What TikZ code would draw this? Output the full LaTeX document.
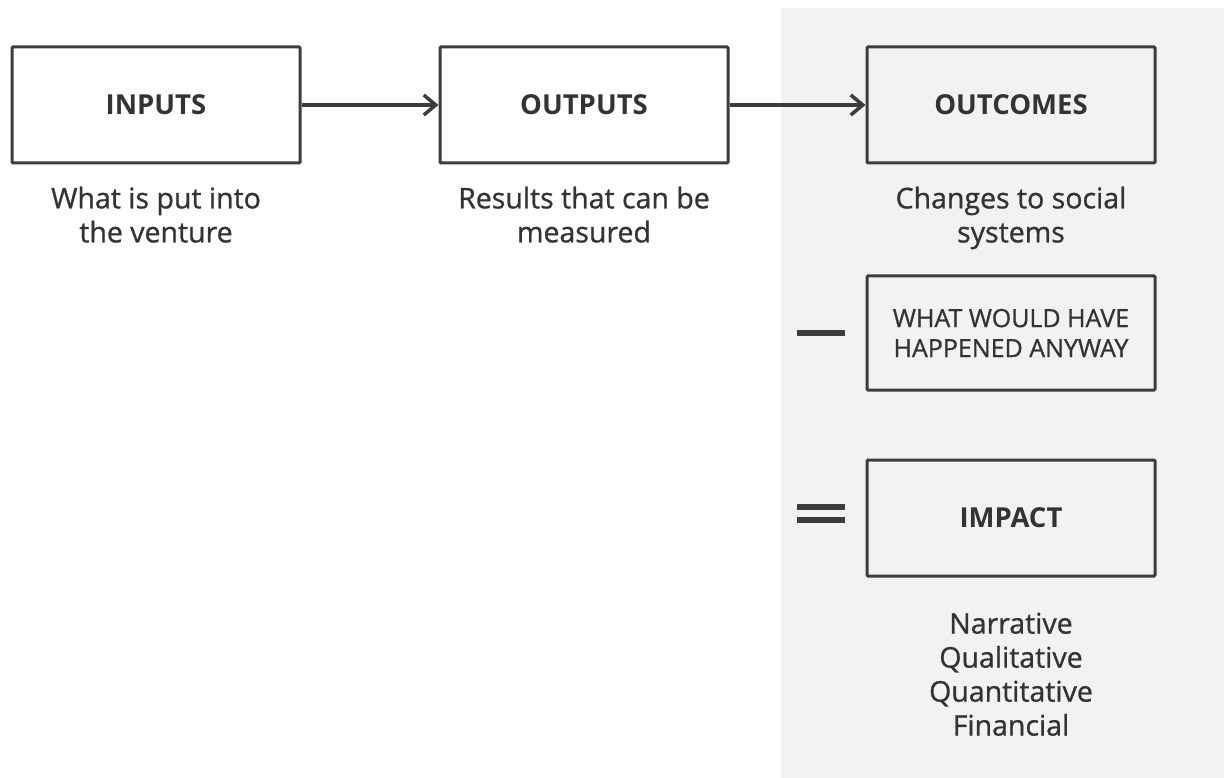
\documentclass[tikz,border=0pt]{standalone}
\usepackage{fontspec}
\setmainfont{Open Sans}
\usetikzlibrary{positioning, arrows.meta}
\definecolor{boxline}{HTML}{3C3C3C}
\definecolor{txt}{HTML}{333333}
\definecolor{panel}{HTML}{F2F2F2}

\begin{document}
\begin{tikzpicture}[
        x=1pt, y=-1pt,
        node distance=137pt and 137pt,
        block/.style={rectangle, draw=boxline, line width=3pt, rounded corners=1pt, minimum width=288pt, minimum height=116pt, text=txt, align=center, inner sep=0pt, font=\fontsize{27.5}{30}\selectfont\bfseries},
        note/.style={text=txt, align=center, inner sep=0pt, font=\fontsize{28.5}{34}\selectfont\addfontfeatures{FakeBold=0.9}},
        sign/.style={fill=boxline},
        arrow/.style={line width=3.5pt, draw=boxline, -{Straight Barb[length=12pt, width=20pt, line width=3.5pt]}}
    ]

    \useasboundingbox (0,0) rectangle (1224,778);

    % Shaded panel behind the impact column
    \fill[panel] (781,8) rectangle (1224,778);

    % Chain of boxes
    \node [block] at (156,105) (inputs) {INPUTS};
    \node [block, right=of inputs] (outputs) {OUTPUTS};
    \node [block, right=136pt of outputs] (outcomes) {OUTCOMES};

    % Captions
    \node [note, below=22pt of inputs] (inputsnote) {What is put into\\the venture};
    \node [note, below=22pt of outputs] (outputsnote) {Results that can be\\measured};
    \node [note, below=22pt of outcomes] (outcomesnote) {Changes to social\\systems};

    % Subtraction and result
    \node [block, minimum height=114pt, below=110pt of outcomes, font=\fontsize{25}{30}\selectfont\addfontfeatures{FakeBold=0.9}] (anyway) {WHAT WOULD HAVE\\HAPPENED ANYWAY};
    \node [block, below=67pt of anyway] (impact) {IMPACT};
    \node [note, below=35pt of impact] (impactnote) {Narrative\\Qualitative\\Quantitative\\Financial};

    % Minus and equals signs
    \fill [sign] ([xshift=-68.5pt, yshift=-3pt]anyway.west) rectangle ([xshift=-20.5pt, yshift=3pt]anyway.west);
    \fill [sign] ([xshift=-68.5pt, yshift=8pt]impact.west) rectangle ([xshift=-20.5pt, yshift=14pt]impact.west);
    \fill [sign] ([xshift=-68.5pt, yshift=-5pt]impact.west) rectangle ([xshift=-20.5pt, yshift=1pt]impact.west);

    % Connecting arrows
    \draw [arrow] (inputs) -- (outputs);
    \draw [arrow] (outputs) -- (outcomes);

\end{tikzpicture}
\end{document}
